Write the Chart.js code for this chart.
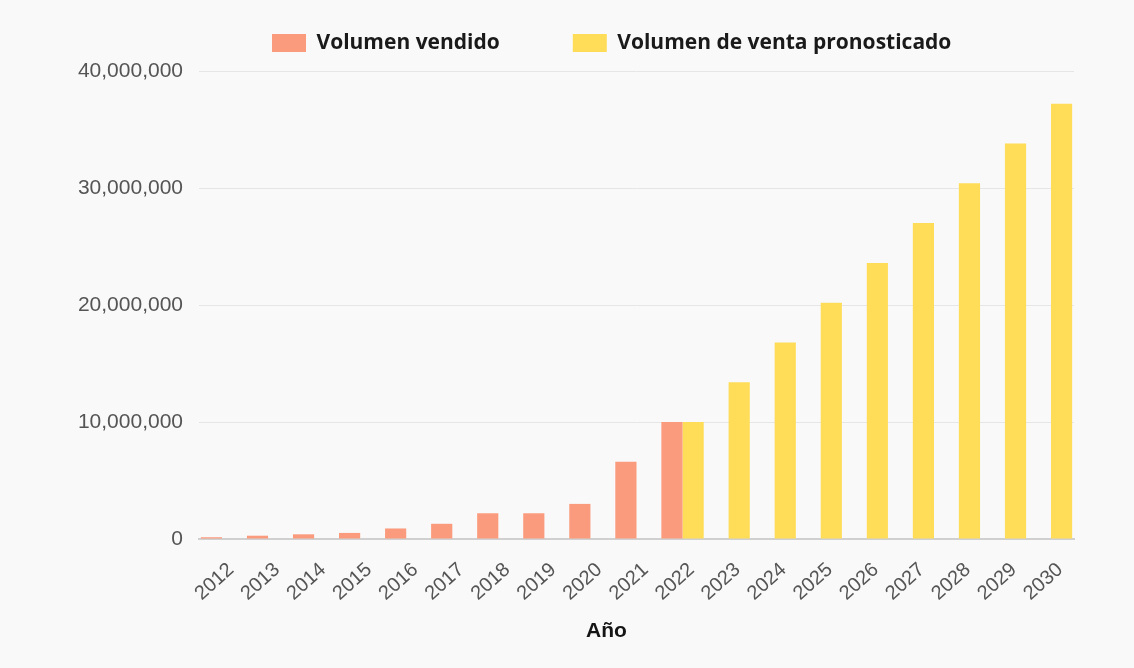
<!DOCTYPE html>
<html>
<head>
<meta charset="utf-8">
<script src="https://cdn.jsdelivr.net/npm/chart.js@4"></script>
<style>
  html, body { margin: 0; padding: 0; background: #f9f9f9; }
  #wrap { width: 1134px; height: 668px; position: relative; }
</style>
</head>
<body>
<div id="wrap"><canvas id="c" width="1134" height="668"></canvas></div>
<script>
const years = ['2012','2013','2014','2015','2016','2017','2018','2019','2020','2021','2022','2023','2024','2025','2026','2027','2028','2029','2030'];
const soldVolume = [150000, 280000, 400000, 520000, 900000, 1300000, 2200000, 2200000, 3000000, 6600000, 10000000, null, null, null, null, null, null, null, null];
const forecastVolume = [null, null, null, null, null, null, null, null, null, null, 10000000, 13400000, 16800000, 20200000, 23600000, 27000000, 30400000, 33800000, 37200000];
const yTicks = [0, 10000000, 20000000, 30000000, 40000000];
const seriesNames = ['Volumen vendido', 'Volumen de venta pronosticado'];
const xTitle = 'Año';

const titlePlugin = {
  id: 'xTitle',
  afterDraw(chart) {
    const ctx = chart.ctx;
    const a = chart.chartArea;
    ctx.save();
    ctx.font = 'bold 21px "Liberation Sans", Arial, sans-serif';
    ctx.fillStyle = '#151515';
    ctx.textAlign = 'center';
    ctx.textBaseline = 'middle';
    ctx.fillText(xTitle, (a.left + a.right) / 2 - 30, 631);
    ctx.restore();
  }
};

new Chart(document.getElementById('c'), {
  type: 'bar',
  data: {
    labels: years,
    datasets: [
      { label: seriesNames[0], data: soldVolume, backgroundColor: 'rgb(251,155,125)', categoryPercentage: 0.92, barPercentage: 1.0 },
      { label: seriesNames[1], data: forecastVolume, backgroundColor: 'rgb(255,221,88)', categoryPercentage: 0.92, barPercentage: 1.0 }
    ]
  },
  options: {
    responsive: false,
    animation: false,
    layout: { padding: { left: 60, right: 60, top: -40.5, bottom: 0 } },
    plugins: {
      legend: {
        position: 'top',
        fullSize: false,
        align: 'start',
        weight: 3000,
        labels: {
          boxWidth: 34, boxHeight: 18, padding: 73,
          color: '#1a1a1a',
          font: { family: '"Open Sans", sans-serif', size: 21, weight: 'bold' }
        }
      },
      subtitle: {
        display: true,
        text: ' ',
        font: { size: 1, lineHeight: 1 },
        padding: { top: 3.25, bottom: 3.25 }
      },
      tooltip: { enabled: false }
    },
    scales: {
      x: {
        afterFit(scale) { scale.height = 129; },
        grid: { display: false, drawTicks: false },
        border: { display: true, color: '#d0d0d0', width: 2 },
        ticks: {
          color: '#555', maxRotation: 42, minRotation: 42, padding: 19, labelOffset: 9,
          font: { family: '"Liberation Sans", Arial, sans-serif', size: 20 }
        }
      },
      y: {
        min: 0, max: 40000000,
        afterBuildTicks(scale) { scale.ticks = yTicks.map(v => ({ value: v })); },
        afterFit(scale) { scale.width = 139; },
        grid: { color: '#e6e6e6', drawTicks: false },
        border: { display: false },
        ticks: {
          color: '#555', padding: 16,
          font: { family: '"Liberation Sans", Arial, sans-serif', size: 21 },
          callback: v => v.toLocaleString('en-US')
        }
      }
    }
  },
  plugins: [titlePlugin]
});
</script>
</body>
</html>
